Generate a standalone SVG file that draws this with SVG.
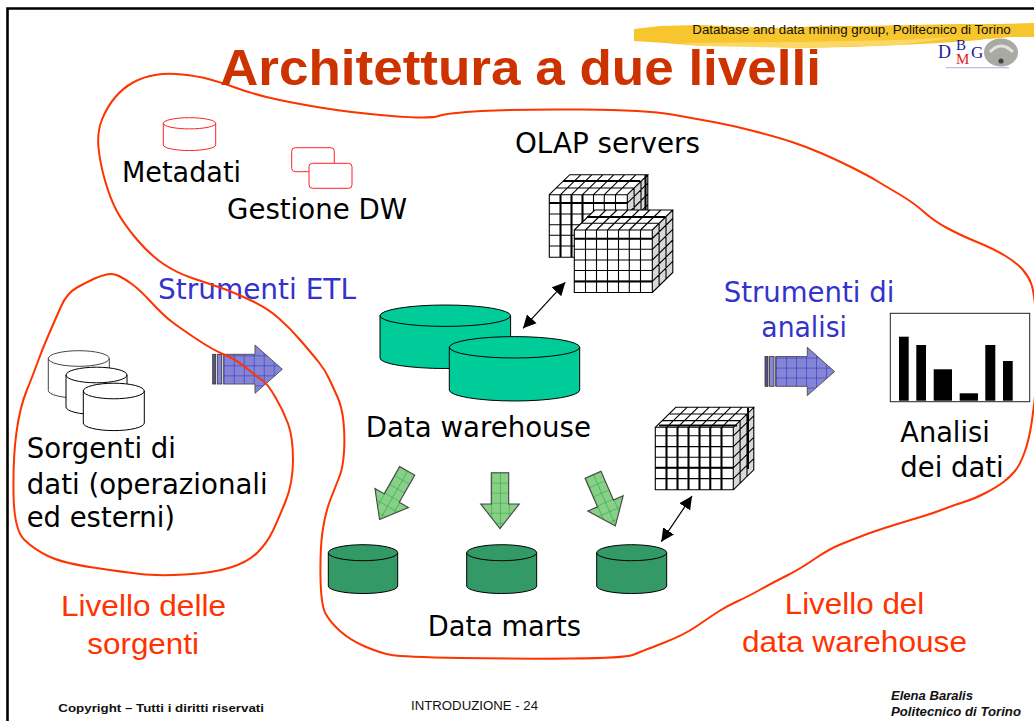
<svg xmlns="http://www.w3.org/2000/svg" xmlns:xlink="http://www.w3.org/1999/xlink" width="1034" height="721" viewBox="0 0 1034 721">
<style>
text{white-space:pre}
.t{font-family:"DejaVu Sans",sans-serif;font-stretch:condensed;font-size:29px;fill:#000}
.b{fill:#3333cc}
.r{font-family:"Liberation Sans",Arial,sans-serif;font-size:29.5px;fill:#ff3300}
.f{font-family:"Liberation Sans",Arial,sans-serif;fill:#111}
.cg{stroke:#000;stroke-width:1.1}
.outline{fill:none;stroke:#ff3300;stroke-width:2;stroke-linejoin:round;stroke-linecap:round}
.conn{fill:none;stroke:#000;stroke-width:1.2;marker-start:url(#head);marker-end:url(#head)}
.thick{fill:none;stroke:#000;stroke-width:2}
.bar{fill:#000}
.lg{font-family:"Liberation Serif",serif}
</style>
<defs>
<marker id="head" markerUnits="userSpaceOnUse" markerWidth="14" markerHeight="15" refX="13" refY="7" orient="auto-start-reverse"><path d="M0,0.5L13,7L0,13.5Z" fill="#000"/></marker>
<pattern id="pb" patternUnits="userSpaceOnUse" width="10" height="10" x="1" y="0.3"><rect width="10" height="10" fill="#8585d6"/><path d="M0,0H10M0,0V10" stroke="#2a2ac4" stroke-width="1.1" fill="none"/></pattern>
<pattern id="pg" patternUnits="userSpaceOnUse" width="8.7" height="10"><rect width="8.7" height="10" fill="#88d088"/><path d="M0,0H8.7M0,0V10" stroke="#22a83a" stroke-width="1.1" fill="none"/></pattern>
<g id="barrow">
<rect x="0" y="9.3" width="3" height="29.7" fill="#55558a" stroke="#333" stroke-width="0.8"/>
<rect x="4.6" y="9.3" width="4.4" height="29.7" fill="#8585d6" stroke="#333" stroke-width="0.8"/>
<path d="M10.6,9.3H42.3V0L69.6,24.3L42.3,48.3V39H10.6Z" fill="url(#pb)" stroke="#555" stroke-width="1"/>
</g>
<path id="garrow" d="M-8.7,0H8.7V31.3H19.3L0,56L-19.3,31.3H-8.7Z" fill="url(#pg)" stroke="#444" stroke-width="1.1"/>
<g id="cube">
<path d="M0,0L20.5,-20H98.5V42.5L78,62.5H0Z" fill="#fff"/>
<path d="M78,0L98.5,-20V42.5L78,62.5Z" fill="#d8d8d8"/>
<path class="cg" fill="none" d="M0,0H78V62.5H0ZM0,0L20.5,-20H98.5L78,0M98.5,-20V42.5L78,62.5
M11.2,0V62.5M22.2,0V62.5M33.2,0V62.5M44.2,0V62.5M55,0V62.5M66.2,0V62.5
M0,8.5H78M0,19.3H78M0,30H78M0,40.5H78M0,51.3H78
M6.8,-6.7H84.8M13.7,-13.3H91.7
M11.2,0L31.7,-20M22.2,0L42.7,-20M33.2,0L53.7,-20M44.2,0L64.7,-20M55,0L75.5,-20M66.2,0L86.7,-20
M84.8,-6.7V55.8M91.7,-13.3V49.2
M78,8.5L98.5,-11.5M78,19.3L98.5,-0.7M78,30L98.5,10M78,40.5L98.5,20.5M78,51.3L98.5,31.3"/>
</g>
</defs>
<rect width="1034" height="721" fill="#fff"/>
<g id="frame"><path d="M7.5,721V8.5H1034" fill="none" stroke="#000" stroke-width="2.6"/></g>
<g id="brush">
<path d="M634,29L660,26L700,25L740,27L780,28L820,26L860,26L910,25L960,24L1000,24L1034,23V37L1010,37L980,40L940,43L900,45L850,47L800,48L750,46L700,46L665,43L634,41Z" fill="#f7c52e"/>
<path d="M680,43L800,42L900,40L960,37L900,45L800,48L700,46Z" fill="#fbd866"/>
</g>
<text id="header" class="f" x="692.3" y="34" font-size="12" textLength="318.4" lengthAdjust="spacingAndGlyphs">Database and data mining group, Politecnico di Torino</text>
<g id="logo">
<rect x="983" y="39" width="37" height="28" fill="#fff"/>
<ellipse cx="1001" cy="52.5" rx="17" ry="14" fill="#a9aaa2"/>
<path d="M990,52Q1001,40 1013,52" fill="none" stroke="#e4e4de" stroke-width="3"/>
<circle cx="1001" cy="61" r="2.6" fill="#444"/>
<text class="lg" x="938" y="58" font-size="18" fill="#1a1a9c">D</text>
<text class="lg" x="956" y="50" font-size="15" fill="#1a1a9c">B</text>
<text class="lg" x="956" y="64" font-size="15" fill="#e02020">M</text>
<text class="lg" x="971" y="58" font-size="17" fill="#1a1a9c">G</text>
<path d="M946,67.7H1009" stroke="#8a8ad0" stroke-width="1" opacity="0.7"/>
</g>
<g id="metadati-node">
<path d="M163.3,123.3V145a26.2,5.5 0 0 0 52.4,0V123.3a26.2,5.6 0 0 0-52.4,0a26.2,5.6 0 0 0 52.4,0" fill="#fff" stroke="#f22" stroke-width="1"/>
<text class="t" x="122" y="181.7" textLength="119" lengthAdjust="spacingAndGlyphs">Metadati</text>
</g>
<g id="gestione-node" fill="#fff" stroke="#f22" stroke-width="1">
<rect x="291.7" y="147.7" width="42.6" height="24" rx="3.5"/>
<rect x="309" y="163.3" width="43" height="25" rx="3.5"/>
<text class="t" stroke="none" x="227" y="219" textLength="180" lengthAdjust="spacingAndGlyphs">Gestione DW</text>
</g>
<g id="olap-node">
<text class="t" x="515" y="152.7" textLength="185" lengthAdjust="spacingAndGlyphs">OLAP servers</text>
<use xlink:href="#cube" href="#cube" x="549.3" y="194.7"/>
<path class="thick" d="M560.5,195V257M571.5,195V257M582.5,195V257M549.3,203H627M563,181H640M645.5,175V236"/>
<use xlink:href="#cube" href="#cube" x="574.3" y="230"/>
<path class="thick" d="M574.3,238.7H652M574.3,281.5H652M587,217H665"/>
</g>
<g id="dw-node">
<path d="M380,315.7V358a65.3,10.5 0 0 0 130.6,0V315.7a65.3,10.7 0 0 0-130.6,0a65.3,10.7 0 0 0 130.6,0" fill="#00cc99" stroke="#000" stroke-width="1"/>
<path d="M449.3,347.3V390a65.2,11 0 0 0 130.4,0V347.3a65.2,10.7 0 0 0-130.4,0a65.2,10.7 0 0 0 130.4,0" fill="#00cc99" stroke="#000" stroke-width="1"/>
<text class="t" x="365.7" y="436.7" textLength="225.3" lengthAdjust="spacingAndGlyphs">Data warehouse</text>
</g>
<g id="sorgenti-node" fill="#fff" stroke="#000" stroke-width="1">
<path d="M48.3,358.5V390.5a30.5,7.6 0 0 0 61,0V358.5a30.5,7.8 0 0 0-61,0a30.5,7.8 0 0 0 61,0" stroke="#444"/>
<path d="M66,375V407a30.5,7.6 0 0 0 61,0V375a30.5,7.8 0 0 0-61,0a30.5,7.8 0 0 0 61,0"/>
<path d="M83.3,391V423a30.5,7.6 0 0 0 61,0V391a30.5,7.8 0 0 0-61,0a30.5,7.8 0 0 0 61,0"/>
<g stroke="none">
<text class="t" x="26.7" y="458.3" textLength="149.3" lengthAdjust="spacingAndGlyphs">Sorgenti di</text>
<text class="t" x="26.7" y="494" textLength="241" lengthAdjust="spacingAndGlyphs">dati (operazionali</text>
<text class="t" x="26.7" y="527.3" textLength="148.3" lengthAdjust="spacingAndGlyphs">ed esterni)</text>
</g>
</g>
<g id="datamart-nodes" fill="#339966" stroke="#000" stroke-width="1">
<path d="M328.3,552.7V586a34.7,7.5 0 0 0 69.4,0V552.7a34.7,8 0 0 0-69.4,0a34.7,8 0 0 0 69.4,0"/>
<path d="M466.7,552.7V586a35,7.5 0 0 0 70,0V552.7a35,8 0 0 0-70,0a35,8 0 0 0 70,0"/>
<path d="M596.7,552.7V586a35,7.5 0 0 0 70,0V552.7a35,8 0 0 0-70,0a35,8 0 0 0 70,0"/>
<text class="t" stroke="none" x="427.7" y="636" textLength="153.3" lengthAdjust="spacingAndGlyphs">Data marts</text>
</g>
<g id="cube-datamart">
<use xlink:href="#cube" href="#cube" x="655.3" y="427.3"/>
<path class="thick" d="M666.5,427V490M677.5,427V490M688.5,427V490M699.5,427V490M710.3,427V490M721.5,427V490M655.3,467.8H733M659,425.5H737M748,408V469"/>
</g>
<g id="analisi-node">
<rect x="890.3" y="313.3" width="139.4" height="88.4" fill="#fff" stroke="#222" stroke-width="1"/>
<rect class="bar" x="899" y="336.7" width="9.7" height="64"/>
<rect class="bar" x="916.3" y="345" width="9.7" height="55.7"/>
<rect class="bar" x="933.7" y="369.3" width="18.3" height="31.4"/>
<rect class="bar" x="959.7" y="393.3" width="18.3" height="7.4"/>
<rect class="bar" x="985.3" y="345" width="10" height="55.7"/>
<rect class="bar" x="1003" y="361" width="9.7" height="39.7"/>
<text class="t" x="900.3" y="441.7" textLength="89.4" lengthAdjust="spacingAndGlyphs">Analisi</text>
<text class="t" x="900.3" y="476.7" textLength="103.4" lengthAdjust="spacingAndGlyphs">dei dati</text>
</g>
<g id="connectors">
<path class="conn" d="M523,328.3L565.3,282.3"/>
<path class="conn" d="M661.3,541.7L692,496"/>
<use id="arrow-etl" xlink:href="#barrow" href="#barrow" x="212.7" y="345"/>
<use id="arrow-analisi" xlink:href="#barrow" href="#barrow" x="765" y="347.3"/>
<use id="arrow-dm1" xlink:href="#garrow" href="#garrow" transform="translate(407.2,470.8) rotate(29.6)"/>
<use id="arrow-dm2" xlink:href="#garrow" href="#garrow" transform="translate(500,472.7)"/>
<use id="arrow-dm3" xlink:href="#garrow" href="#garrow" transform="translate(593,474.7) rotate(-23.5)"/>
</g>
<g id="labels">
<text class="t b" x="158" y="299.3" textLength="198" lengthAdjust="spacingAndGlyphs">Strumenti ETL</text>
<text class="t b" x="723.7" y="301.7" textLength="170.6" lengthAdjust="spacingAndGlyphs">Strumenti di</text>
<text class="t b" x="761.3" y="336.7" textLength="85.7" lengthAdjust="spacingAndGlyphs">analisi</text>
<text class="r" x="61" y="616" textLength="165" lengthAdjust="spacingAndGlyphs">Livello delle</text>
<text class="r" x="87.3" y="654" textLength="111.7" lengthAdjust="spacingAndGlyphs">sorgenti</text>
<text class="r" x="784.7" y="614" textLength="139.6" lengthAdjust="spacingAndGlyphs">Livello del</text>
<text class="r" x="742" y="651.7" textLength="225" lengthAdjust="spacingAndGlyphs">data warehouse</text>
</g>
<g id="outlines">
<path class="outline" d="M208.5,79Q220,82 235,87.5Q250,93 268.5,97.5Q287,102 320,107.5Q353,113 391.5,116Q430,119 438.5,116Q447,113 482,111Q517,109 582,109.5Q647,110 672,114.5Q697,119 713.5,122Q730,125 753.5,131Q777,137 792,142Q807,147 822,153.5Q837,160 852,167.5Q867,175 877,181Q887,187 900.5,195Q914,203 924,212Q934,221 947,228Q960,235 977,242Q994,249 1005.5,256Q1017,263 1023,270Q1029,277 1031.5,284.5Q1034,292 1037,321Q1040,350 1037,378.5Q1034,407 1031.5,423.5Q1029,440 1024.5,452.5Q1020,465 1015,471Q1010,477 1003.5,482Q997,487 985.5,493Q974,499 964,502Q954,505 944,509Q934,513 920.5,517Q907,521 891,526Q875,531 864.5,535Q854,539 841.5,544Q829,549 814.5,559Q800,569 787,575.5Q774,582 760.5,589.5Q747,597 737,601.5Q727,606 718.5,611.5Q710,617 697,626Q684,635 662,643.5Q640,652 632.5,655Q625,658 571,658.5Q517,659 460,658Q403,657 391.5,655Q380,653 365,646.5Q350,640 340,631Q330,622 325.5,613.5Q321,605 320.5,577.5Q320,550 322.5,531.5Q325,513 331,498Q337,483 340,475Q343,467 344,452Q345,437 343.5,422Q342,407 337.5,397Q333,387 329,378.5Q325,370 319,362.5Q313,355 301.5,341.5Q290,328 278.5,318Q267,308 250,300Q233,292 220,287.5Q207,283 192,278Q177,273 163.5,264Q150,255 136.5,239Q123,223 116.5,210.5Q110,198 105,180.5Q100,163 98.5,147.5Q97,132 102,119.5Q107,107 115,97.5Q123,88 133,82.5Q143,77 155,75Q167,73 182,74.5Q197,76 208.5,79Z"/>
<path class="outline" d="M119,276Q113,273 106.5,274.5Q100,276 93.5,279Q87,282 77,287.5Q67,293 61,306.5Q55,320 48.5,335Q42,350 37.5,362.5Q33,375 26.5,391Q20,407 16.5,432Q13,457 13.5,493.5Q14,530 24.5,540Q35,550 49,556.5Q63,563 93,567.5Q123,572 140,574Q157,576 185,574.5Q213,573 230.5,567.5Q248,562 257.5,552.5Q267,543 272.5,531.5Q278,520 285.5,501.5Q293,483 293,460Q293,437 288,423.5Q283,410 275,396.5Q267,383 262,380Q257,377 247,368.5Q237,360 225,355Q213,350 196.5,339Q180,328 171.5,321.5Q163,315 151.5,302.5Q140,290 132.5,284.5Q125,279 119,276Z"/>
</g>
<text id="title" x="220" y="85" font-family="Liberation Sans,Arial,sans-serif" font-weight="bold" font-size="50" fill="#cc3300" textLength="601" lengthAdjust="spacingAndGlyphs">Architettura a due livelli</text>
<g id="footer">
<text class="f" x="58.3" y="712.3" font-size="11.5" font-weight="bold" textLength="205.7" lengthAdjust="spacingAndGlyphs">Copyright – Tutti i diritti riservati</text>
<text class="f" x="411" y="710" font-size="12" textLength="127" lengthAdjust="spacingAndGlyphs">INTRODUZIONE - 24</text>
<text class="f" x="891" y="700" font-size="12" font-weight="bold" font-style="italic" textLength="82" lengthAdjust="spacingAndGlyphs">Elena Baralis</text>
<text class="f" x="891" y="716" font-size="12" font-weight="bold" font-style="italic" textLength="130" lengthAdjust="spacingAndGlyphs">Politecnico di Torino</text>
</g>
</svg>
